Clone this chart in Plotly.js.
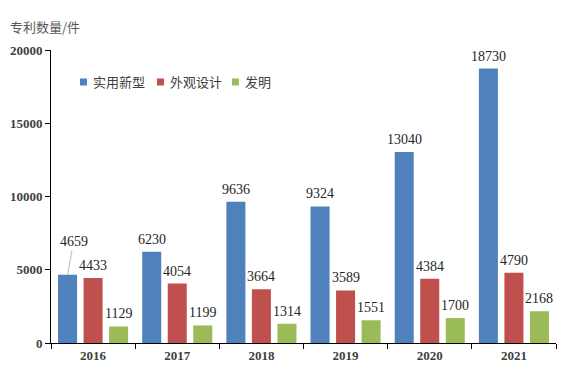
<!DOCTYPE html>
<html><head><meta charset="utf-8">
<script src="https://cdn.plot.ly/plotly-3.0.1.min.js"></script>
<style>html,body{margin:0;padding:0;background:#fff;}#chart{width:569px;height:374px;}</style>
</head><body><div id="chart"></div>
<script>
var years = ['2016','2017','2018','2019','2020','2021'];
var seriesNames = ['实用新型','外观设计','发明'];
var utility = [4659, 6230, 9636, 9324, 13040, 18730];
var design = [4433, 4054, 3664, 3589, 4384, 4790];
var invention = [1129, 1199, 1314, 1551, 1700, 2168];
var colors = ['#4F81BD','#C0504D','#9BBB59'];
var yTicks = [0, 5000, 10000, 15000, 20000];

var W = 569, H = 374, M = {l:51, r:13, t:50, b:31};
var pw = W - M.l - M.r, ph = H - M.t - M.b;
function px2x(p){ return (p - M.l) / pw; }
function px2y(p){ return (H - M.b - p) / ph; }

var allSeries = [utility, design, invention];
var traces = allSeries.map(function(vals, i){
  return {type:'bar', name: seriesNames[i], x: years, y: vals,
    marker:{color: colors[i]}, hoverinfo:'none', showlegend:false};
});

var offsets = [-25.5, 0, 25.5];
var annotations = [];
var shapes = [];
allSeries.forEach(function(vals, s){
  vals.forEach(function(v, k){
    var a = {x: k, y: v, xref:'x', yref:'y', text: String(v), xshift: offsets[s],
      font:{family:'Liberation Serif, serif', size:14, color:'#262626'}};
    if (s === 0 && k === 0) {
      a.showarrow = true; a.arrowhead = 0; a.arrowwidth = 0.8; a.arrowcolor = '#A6A6A6';
      a.ax = 6; a.ay = -33; a.standoff = 0;
    } else {
      a.showarrow = false; a.yanchor = 'bottom'; a.yshift = 3;
    }
    annotations.push(a);
  });
});
// legend (drawn manually)
var legStart = [80, 157, 232], legY = 82, sq = 7;
seriesNames.forEach(function(n, i){
  shapes.push({type:'rect', xref:'paper', yref:'paper', line:{width:0}, fillcolor: colors[i],
    x0: px2x(legStart[i]), x1: px2x(legStart[i] + sq),
    y0: px2y(legY + sq/2), y1: px2y(legY - sq/2)});
  annotations.push({xref:'paper', yref:'paper', x: px2x(legStart[i] + sq + 4), y: px2y(legY),
    xanchor:'left', yanchor:'middle', showarrow:false, text:n,
    font:{family:'Noto Sans CJK SC, sans-serif', size:13, color:'#404040'}});
});
annotations.push({xref:'paper', yref:'paper', x: px2x(8), y: px2y(27), xanchor:'left', yanchor:'middle',
  showarrow:false, text:'专利数量/件',
  font:{family:'Noto Sans CJK SC, sans-serif', size:13, color:'#595959'}});

var layout = {
  width:W, height:H, margin:M,
  paper_bgcolor:'#fff', plot_bgcolor:'#fff',
  barmode:'group', bargap:0.09, bargroupgap:0.255,
  showlegend:false,
  xaxis:{type:'category', showline:true, linecolor:'#000', linewidth:1,
    ticks:'outside', ticklen:5, tickcolor:'#000', tickson:'boundaries',
    showgrid:false, zeroline:false,
    tickfont:{family:'Liberation Serif, serif', size:13, color:'#404040', weight:'bold'}},
  yaxis:{range:[0,20000], tickvals:yTicks, ticktext:yTicks.map(String),
    showline:true, linecolor:'#000', linewidth:1, ticks:'outside', ticklen:5, tickcolor:'#000',
    showgrid:false, zeroline:false,
    tickfont:{family:'Liberation Serif, serif', size:13, color:'#404040', weight:'bold'}},
  annotations: annotations, shapes: shapes
};
Plotly.newPlot('chart', traces, layout, {displayModeBar:false, staticPlot:true});
</script></body></html>
